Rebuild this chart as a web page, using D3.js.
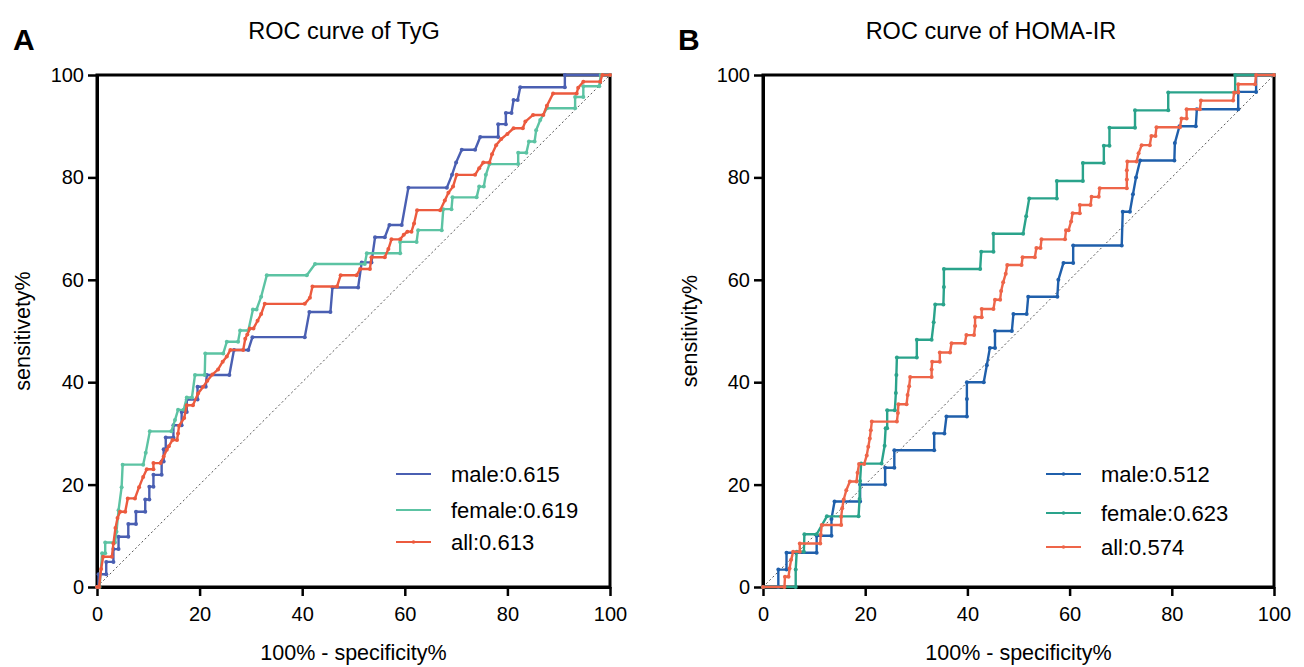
<!DOCTYPE html>
<html lang="en">
<head>
<meta charset="UTF-8">
<title>ROC curves of TyG and HOMA-IR</title>
<script src="https://d3js.org/d3.v7.min.js"></script>
<style>
    body { margin: 0; background: #fff; font-family: "Liberation Sans", Arial, sans-serif; }
    svg { display: block; }
</style>
</head>
<body>
<svg id="chart" width="1304" height="667"></svg>
<script>
// axis ticks (both axes, both panels)
const ticks = [0, 20, 40, 60, 80, 100];

// panel A: TyG  [100% - specificity%, sensitivity%]
const tygMale = [[0,0],[0.3,0],[0.3,2.5],[1.8,2.5],[1.8,4.9],[3.2,4.9],[3.2,7.4],[4.2,7.4],[4.2,9.8],[6.1,9.8],[6.1,12.3],[7.6,12.3],[7.6,14.7],[9.4,14.7],[9.4,17.1],[10.2,17.1],[10.2,19.6],[11.0,19.6],[11.0,21.9],[12.6,21.9],[12.6,24.5],[13.0,24.5],[13.0,26.9],[13.4,26.9],[13.4,29.2],[14.9,29.2],[14.9,31.6],[16.5,31.6],[16.5,34.2],[17.5,34.2],[17.5,36.6],[19.6,36.6],[19.6,39.1],[21.2,39.1],[21.4,41.4],[25.8,41.4],[26.7,46.3],[29.5,46.3],[30.3,48.8],[40.5,48.8],[41.4,53.7],[45.5,53.7],[45.9,58.5],[50.9,58.5],[51.6,63.4],[53.5,63.4],[54.2,68.3],[56.1,68.3],[57.0,70.7],[59.4,70.7],[60.7,78.0],[68.2,78.0],[69.2,80.5],[70.0,82.9],[71.1,85.4],[73.7,85.4],[74.7,87.9],[78.2,87.9],[78.2,90.4],[79.7,90.4],[79.7,92.6],[80.8,92.6],[81.2,95.1],[82.0,95.1],[82.5,97.6],[91.2,97.6],[91.2,100],[100,100]];
const tygFemale = [[0,0],[0.5,0],[1.0,6.6],[1.6,6.6],[1.6,8.7],[3.5,8.7],[3.8,10.8],[4.2,15.0],[4.8,19.5],[5.0,23.9],[9.0,23.9],[9.5,26.2],[10.3,30.4],[14.5,30.4],[15.2,32.6],[15.8,34.6],[16.9,34.6],[17.5,37.0],[18.5,37.0],[19.1,41.4],[21.0,41.4],[21.1,45.6],[24.6,45.6],[25.3,47.9],[27.5,47.9],[27.9,50.1],[29.5,50.1],[30.4,54.2],[31.1,54.2],[32.0,56.7],[33.1,60.9],[40.9,60.9],[42.5,63.1],[52.2,63.1],[52.6,65.2],[59.1,65.2],[59.1,67.4],[62.3,67.4],[62.6,69.7],[67.2,69.7],[67.5,73.8],[69.1,73.8],[69.3,76.1],[74.0,76.1],[74.5,78.2],[75.4,78.2],[75.8,80.5],[76.5,82.6],[82.1,82.6],[82.1,84.8],[83.7,84.8],[84.2,87.0],[85.3,87.0],[85.6,89.2],[86.4,91.2],[87.7,93.5],[93.2,93.5],[93.2,95.7],[94.8,95.7],[94.8,97.8],[97.9,97.8],[98.2,100],[100,100]];
const tygAll = [[0,0],[0.4,0],[0.8,3.5],[1.2,5.9],[2.9,5.9],[3.2,8.5],[3.6,11.5],[4.0,13.5],[4.5,14.7],[5.5,14.7],[6.0,17.3],[7.4,17.3],[8.2,19.5],[9.0,21.5],[9.7,23.0],[11.0,23.0],[11.0,24.2],[12.4,24.2],[13.0,25.5],[13.6,26.8],[14.0,27.5],[14.7,28.7],[15.6,28.7],[15.8,30.0],[16.0,31.5],[17.0,33.0],[17.5,35.5],[18.7,35.5],[19.7,37.8],[20.7,39.1],[21.5,40.3],[22.5,41.5],[23.6,42.5],[24.5,44.0],[25.3,45.0],[26.0,46.3],[28.5,46.3],[28.9,48.5],[29.3,49.3],[29.8,50.5],[30.5,50.5],[31.3,52.0],[32.0,53.3],[32.7,55.3],[40.5,55.3],[41.5,56.5],[42.0,58.7],[46.8,58.7],[47.5,60.9],[50.6,60.9],[51.3,62.1],[53.2,62.1],[53.5,64.4],[56.1,64.4],[56.8,66.0],[57.4,67.9],[59.1,67.9],[59.8,68.8],[60.5,69.4],[61.3,69.4],[61.8,71.0],[62.4,73.6],[66.9,73.6],[67.8,75.5],[68.5,77.0],[69.4,78.2],[70.1,80.5],[73.7,80.5],[74.5,81.8],[75.3,82.9],[76.5,82.9],[77.0,84.5],[77.8,86.3],[78.8,87.5],[80.0,88.5],[81.2,89.6],[83.0,89.6],[83.5,90.9],[85.0,92.2],[87.0,92.2],[87.7,94.0],[88.9,96.4],[93.5,96.4],[93.8,97.5],[94.8,98.7],[98.1,98.7],[98.5,100],[100,100]];

// panel B: HOMA-IR
const homaMale = [[0,0],[3.0,0],[3.0,3.4],[4.6,3.4],[4.6,6.7],[10.5,6.7],[10.5,10.0],[13.4,10.0],[13.4,13.3],[14.0,16.7],[19.0,16.7],[19.0,20.0],[23.9,20.0],[23.9,23.3],[25.7,23.3],[25.7,26.7],[33.5,26.7],[33.5,30.0],[35.5,30.0],[35.9,33.3],[39.9,33.3],[39.9,36.7],[39.9,40.0],[43.2,40.0],[43.8,43.3],[44.4,46.7],[45.4,46.7],[45.4,50.0],[48.7,50.0],[49.0,53.3],[51.6,53.3],[51.9,56.7],[57.6,56.7],[57.8,60.0],[58.8,63.3],[60.7,63.3],[60.7,66.7],[70.2,66.7],[70.4,73.3],[71.8,73.3],[72.4,76.7],[73.0,80.0],[73.8,83.3],[80.5,83.3],[80.6,86.7],[81.5,90.0],[84.7,90.0],[84.9,93.3],[93.0,93.3],[93.0,96.7],[96.5,96.7],[96.5,100],[100,100]];
const homaFemale = [[0,0],[6.4,0],[6.4,3.4],[6.6,6.9],[8.0,6.9],[8.1,10.3],[10.5,10.3],[12.5,13.8],[18.7,13.8],[18.9,17.2],[19.0,20.7],[19.2,24.1],[23.2,24.1],[23.8,27.6],[24.0,31.0],[24.3,31.0],[24.3,34.5],[25.8,34.5],[26.0,37.9],[26.1,41.4],[26.2,44.8],[30.1,44.8],[30.1,48.3],[33.0,48.3],[33.4,51.7],[33.7,55.2],[35.3,55.2],[35.4,58.6],[35.4,62.1],[42.5,62.1],[42.7,65.5],[45.1,65.5],[45.1,69.0],[50.9,69.0],[51.5,72.4],[52.1,75.9],[57.5,75.9],[57.5,79.3],[62.6,79.3],[62.6,82.8],[66.7,82.8],[66.7,86.2],[67.8,86.2],[67.8,89.7],[72.8,89.7],[72.8,93.1],[79.3,93.1],[79.3,96.6],[92.4,96.6],[92.4,100],[100,100]];
const homaAll = [[0,0],[4.2,0],[4.3,2.0],[5.0,2.0],[5.2,3.6],[5.5,5.3],[5.9,6.9],[7.2,6.9],[7.2,8.5],[11.2,8.5],[11.3,10.2],[11.5,12.1],[15.3,12.1],[15.3,13.7],[15.5,15.4],[15.8,17.1],[16.3,18.9],[17.0,20.6],[18.3,20.6],[18.5,22.3],[18.8,24.0],[19.8,24.0],[20.3,25.7],[20.6,27.4],[20.9,29.0],[21.1,30.6],[21.3,32.3],[26.2,32.3],[26.4,34.0],[26.5,35.7],[28.1,35.7],[28.3,37.5],[28.6,39.2],[28.8,41.0],[33.0,41.0],[33.0,42.5],[33.1,44.0],[34.6,44.0],[34.6,45.8],[36.6,45.8],[36.9,47.6],[39.5,47.6],[39.8,49.2],[41.3,49.2],[41.5,51.0],[41.5,52.7],[42.8,52.7],[42.8,54.3],[45.1,54.3],[45.4,56.1],[46.4,56.1],[46.6,57.8],[47.0,59.5],[47.5,61.2],[47.8,62.9],[50.6,62.9],[50.8,64.4],[53.2,64.4],[53.5,66.2],[54.3,66.2],[54.5,67.9],[59.1,67.9],[59.3,69.7],[59.8,69.7],[60.3,71.4],[60.6,73.0],[62.0,73.0],[62.0,74.6],[64.1,74.6],[64.3,76.2],[65.7,76.2],[65.9,77.9],[71.2,77.9],[71.2,79.6],[71.2,81.4],[71.3,83.1],[73.1,83.1],[73.5,84.7],[74.1,86.3],[75.7,86.3],[76.0,88.1],[76.8,88.1],[77.0,89.8],[81.6,89.8],[81.9,91.5],[82.9,91.5],[82.9,93.3],[85.5,93.3],[85.7,95.0],[92.0,95.0],[92.2,96.6],[93.0,96.6],[93.0,98.2],[96.3,98.2],[96.5,100],[100,100]];

const groupNames = ["male", "female", "all"];
const tygAuc = ["0.615", "0.619", "0.613"];
const homaAuc = ["0.512", "0.623", "0.574"];

const svg = d3.select("#chart");
const plotTop = 75, plotBottom = 587;

const panels = [
    {
        letter: "A", title: "ROC curve of TyG", ylab: "sensitivety%", xlab: "100% - specificity%",
        left: 97, right: 610, titleX: 344, letterX: 13, ylabX: 30, legendX: 396,
        legendY: [474, 510, 542], legendDot: [false, false, true],
        data: [tygMale, tygFemale, tygAll], auc: tygAuc,
        colors: ["#4a5fb2", "#5cc3a3", "#ec5a3e"]
    },
    {
        letter: "B", title: "ROC curve of HOMA-IR", ylab: "sensitivity%", xlab: "100% - specificity%",
        left: 763, right: 1274, titleX: 991, letterX: 678, ylabX: 697, legendX: 1046,
        legendY: [474, 513, 547], legendDot: [true, true, true],
        data: [homaMale, homaFemale, homaAll], auc: homaAuc,
        colors: ["#1f5fab", "#2aa38b", "#ee6549"]
    }
];

panels.forEach(drawPanel);

function drawPanel(p) {
    const x = d3.scaleLinear().domain([0, 100]).range([p.left, p.right]);
    const y = d3.scaleLinear().domain([0, 100]).range([plotBottom, plotTop]);
    const g = svg.append("g");

    // reference diagonal
    g.append("line")
        .attr("x1", x(0)).attr("y1", y(0))
        .attr("x2", x(100)).attr("y2", y(100))
        .attr("stroke", "#555")
        .attr("stroke-width", 1)
        .attr("stroke-dasharray", "2,2.5");

    // frame
    g.append("rect")
        .attr("x", x(0)).attr("y", y(100))
        .attr("width", x(100) - x(0)).attr("height", y(0) - y(100))
        .attr("fill", "none")
        .attr("stroke", "#000")
        .attr("stroke-width", 3);

    const xAxis = g.append("g")
        .attr("transform", `translate(0,${plotBottom})`)
        .call(d3.axisBottom(x).tickValues(ticks).tickSize(9).tickPadding(11).tickSizeOuter(0));
    const yAxis = g.append("g")
        .attr("transform", `translate(${p.left},0)`)
        .call(d3.axisLeft(y).tickValues(ticks).tickSize(9).tickPadding(4).tickSizeOuter(0));

    [xAxis, yAxis].forEach(a => {
        a.select(".domain").attr("stroke-width", 3);
        a.selectAll(".tick line").attr("stroke-width", 2.5);
        a.selectAll(".tick text")
            .attr("font-size", 20)
            .attr("font-family", "Liberation Sans, Arial, sans-serif")
            .attr("fill", "#000");
    });

    // curves
    const line = d3.line().x(d => x(d[0])).y(d => y(d[1]));
    p.data.forEach((series, i) => {
        g.append("path")
            .datum(series)
            .attr("d", line)
            .attr("fill", "none")
            .attr("stroke", p.colors[i])
            .attr("stroke-width", 2.4)
            .attr("stroke-linejoin", "round");
        g.selectAll(null)
            .data(series)
            .enter()
            .append("circle")
            .attr("cx", d => x(d[0]))
            .attr("cy", d => y(d[1]))
            .attr("r", 2)
            .attr("fill", p.colors[i]);
    });

    // legend
    groupNames.forEach((name, i) => {
        const ly = p.legendY[i];
        g.append("line")
            .attr("x1", p.legendX).attr("x2", p.legendX + 35)
            .attr("y1", ly).attr("y2", ly)
            .attr("stroke", p.colors[i])
            .attr("stroke-width", 2.2);
        if (p.legendDot[i]) {
            g.append("circle")
                .attr("cx", p.legendX + 17.5).attr("cy", ly)
                .attr("r", 1.8).attr("fill", p.colors[i]);
        }
        g.append("text")
            .attr("x", p.legendX + 55)
            .attr("y", ly)
            .attr("dy", "0.36em")
            .attr("font-size", 22)
            .attr("fill", "#000")
            .text(name + ":" + p.auc[i]);
    });

    // titles and labels
    g.append("text")
        .attr("x", p.letterX).attr("y", 50)
        .attr("font-size", 30).attr("font-weight", "bold")
        .text(p.letter);

    g.append("text")
        .attr("x", p.titleX).attr("y", 39)
        .attr("text-anchor", "middle")
        .attr("font-size", 23.5)
        .text(p.title);

    g.append("text")
        .attr("x", (p.left + p.right) / 2).attr("y", 660)
        .attr("text-anchor", "middle")
        .attr("font-size", 21.5)
        .text(p.xlab);

    g.append("text")
        .attr("transform", `translate(${p.ylabX},${(plotTop + plotBottom) / 2}) rotate(-90)`)
        .attr("text-anchor", "middle")
        .attr("font-size", 21.5)
        .text(p.ylab);
}
</script>
</body>
</html>
